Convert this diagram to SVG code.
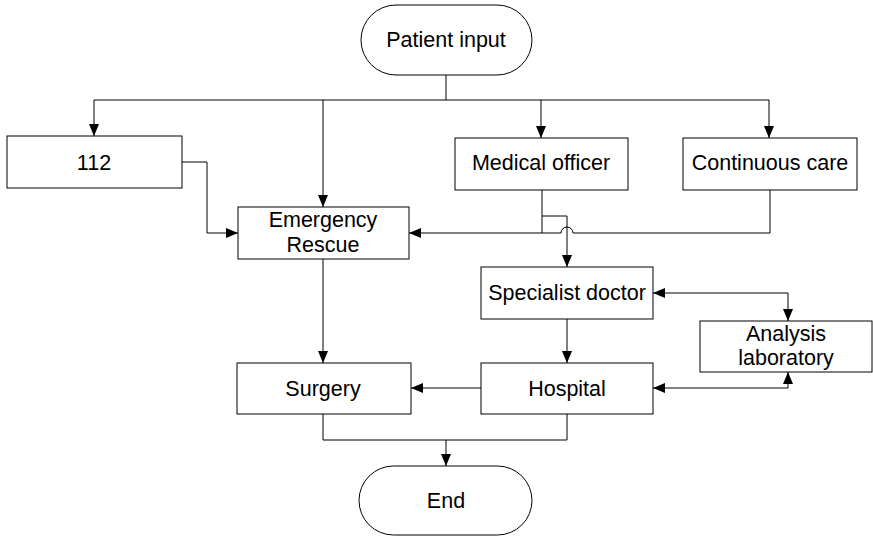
<svg xmlns="http://www.w3.org/2000/svg" width="873" height="538" viewBox="0 0 873 538">
<style>
.box{fill:#fff;stroke:#000;stroke-width:1}
.t{font-family:"Liberation Sans",Arial,sans-serif;font-size:21.5px;fill:#000;text-anchor:middle}
.c{fill:none;stroke:#000;stroke-width:1}
</style>
<defs>
<marker id="a" markerUnits="userSpaceOnUse" markerWidth="13" markerHeight="11" refX="12" refY="5" orient="auto-start-reverse">
<path d="M0,0 L12,5 L0,10 z" fill="#000"/>
</marker>
</defs>
<rect width="873" height="538" fill="#fff"/>
<g id="connectors">
<path class="c" d="M446,75 V100"/>
<path class="c" d="M94,100 H769"/>
<path class="c" d="M94,100 V136" marker-end="url(#a)"/>
<path class="c" d="M323,100 V207" marker-end="url(#a)"/>
<path class="c" d="M541,100 V138" marker-end="url(#a)"/>
<path class="c" d="M769,100 V138" marker-end="url(#a)"/>
<path class="c" d="M182,162 H207 V233 H238" marker-end="url(#a)"/>
<path class="c" d="M542,190 V233 H409" marker-end="url(#a)"/>
<path class="c" d="M542,216 H567 V267" marker-end="url(#a)"/>
<path class="c" d="M770,190 V233 H573 A6,6 0 0 0 561,233 H542"/>
<path class="c" d="M323,259 V363" marker-end="url(#a)"/>
<path class="c" d="M567,319 V363" marker-end="url(#a)"/>
<path class="c" d="M481,388 H411" marker-end="url(#a)"/>
<path class="c" d="M653,293 H788 V321" marker-start="url(#a)" marker-end="url(#a)"/>
<path class="c" d="M653,388 H788 V372" marker-start="url(#a)" marker-end="url(#a)"/>
<path class="c" d="M323,414 V440 H567 V414"/>
<path class="c" d="M446,440 V466" marker-end="url(#a)"/>
</g>
<g id="patient-input"><rect class="box" x="361" y="5" width="171" height="70" rx="35"/><text class="t" x="446" y="47">Patient input</text></g>
<g id="n112"><rect class="box" x="7" y="136" width="175" height="52"/><text class="t" x="94" y="170">112</text></g>
<g id="emergency-rescue"><rect class="box" x="238" y="207" width="171" height="52"/><text class="t" x="323" y="227">Emergency</text><text class="t" x="323" y="252">Rescue</text></g>
<g id="medical-officer"><rect class="box" x="455" y="138" width="173" height="52"/><text class="t" x="541" y="170">Medical officer</text></g>
<g id="continuous-care"><rect class="box" x="683" y="138" width="174" height="52"/><text class="t" x="770" y="170">Continuous care</text></g>
<g id="specialist-doctor"><rect class="box" x="481" y="267" width="172" height="52"/><text class="t" x="567" y="300">Specialist doctor</text></g>
<g id="analysis-laboratory"><rect class="box" x="700" y="321" width="172" height="51"/><text class="t" x="786" y="341">Analysis</text><text class="t" x="786" y="365">laboratory</text></g>
<g id="surgery"><rect class="box" x="237" y="363" width="174" height="51"/><text class="t" x="323" y="396">Surgery</text></g>
<g id="hospital"><rect class="box" x="481" y="363" width="172" height="51"/><text class="t" x="567" y="396">Hospital</text></g>
<g id="end"><rect class="box" x="359" y="466" width="173" height="69" rx="34.5"/><text class="t" x="446" y="508">End</text></g>
</svg>
